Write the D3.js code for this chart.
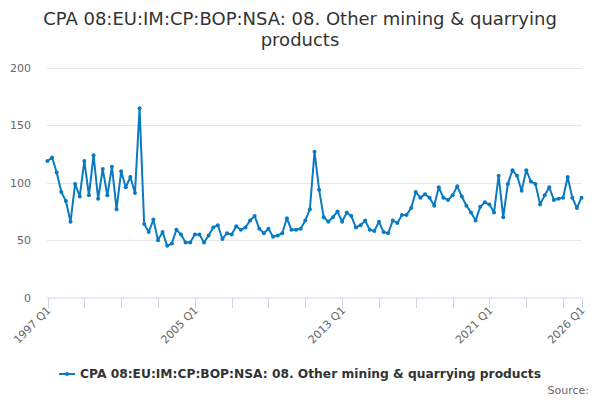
<!DOCTYPE html>
<html>
<head>
<meta charset="utf-8">
<script src="https://cdn.jsdelivr.net/npm/d3@7"></script>
<style>
  body { margin: 0; background: #fff; }
  svg { font-family: "DejaVu Sans", sans-serif; }
</style>
</head>
<body>
<svg id="chart" width="600" height="400"></svg>
<script>
const title = ["CPA 08:EU:IM:CP:BOP:NSA: 08. Other mining & quarrying", "products"];
const seriesName = "CPA 08:EU:IM:CP:BOP:NSA: 08. Other mining & quarrying products";
const startYear = 1997;
const categories = [];
for (let y = startYear; y <= 2026; y++) {
  for (let q = 1; q <= 4; q++) {
    categories.push(y + " Q" + q);
    if (y === 2026) break;
  }
}
const values = [
  119, 122, 109, 92, 84, 66, 99, 88, 119, 89, 124, 86, 112, 89, 114, 77, 110, 96, 105, 91,
  165, 64, 57, 68, 50, 57, 45, 47, 59, 55, 48, 48, 55, 55, 48, 54, 61, 63, 51, 56,
  55, 62, 59, 61, 67, 71, 60, 56, 60, 53, 54, 56, 69, 59, 59, 60, 67, 77, 127, 94,
  70, 66, 70, 75, 66, 74, 71, 61, 63, 67, 59, 58, 66, 57, 56, 67, 65, 72, 72, 78,
  92, 87, 90, 87, 80, 96, 87, 85, 89, 97, 88, 80, 74, 67, 79, 83, 81, 74, 106, 70,
  99, 111, 106, 93, 111, 101, 99, 81, 89, 96, 85, 86, 87, 105, 87, 78, 87
];
const yTicks = [0, 50, 100, 150, 200];
const xTickLabels = ["1997 Q1", "2005 Q1", "2013 Q1", "2021 Q1", "2026 Q1"];

const svg = d3.select("#chart");
const color = "#0a7bc2";

const x = d3.scalePoint().domain(categories).range([47.5, 581.5]);
const y = d3.scaleLinear().domain([0, 200]).range([297.5, 68]);

// title
svg.append("text")
  .attr("x", 300).attr("y", 25)
  .attr("text-anchor", "middle")
  .attr("fill", "#333").attr("font-size", 18)
  .selectAll("tspan").data(title).join("tspan")
  .attr("x", 300).attr("dy", (d, i) => i === 0 ? 0 : 21)
  .text(d => d);

// grid + y labels
const gy = svg.append("g");
gy.selectAll("line").data(yTicks.filter(d => d > 0)).join("line")
  .attr("x1", 47).attr("x2", 582)
  .attr("y1", d => Math.round(y(d)) + 0.5).attr("y2", d => Math.round(y(d)) + 0.5)
  .attr("stroke", "#e6e6e6");
gy.selectAll("text").data(yTicks).join("text")
  .attr("x", 31).attr("y", d => y(d) + 4)
  .attr("text-anchor", "end").attr("fill", "#666").attr("font-size", 11)
  .text(d => d);

// x axis
const tickCats = categories.filter((c, i) => i % 8 === 0 || i === categories.length - 1);
const gx = svg.append("g");
gx.append("line").attr("x1", 47).attr("x2", 582)
  .attr("y1", 298).attr("y2", 298).attr("stroke", "#ccd6eb");
gx.selectAll("line.tick").data(tickCats).join("line").attr("class", "tick")
  .attr("x1", d => Math.round(x(d)) + 0.5).attr("x2", d => Math.round(x(d)) + 0.5)
  .attr("y1", 298).attr("y2", 308).attr("stroke", "#ccd6eb");
gx.selectAll("text").data(xTickLabels).join("text")
  .attr("transform", d => `translate(${x(d) + 4},${311}) rotate(-45)`)
  .attr("text-anchor", "end").attr("fill", "#666").attr("font-size", 11)
  .text(d => d);

// line
const data = categories.map((c, i) => ({ c, v: values[i] }));
svg.append("path").datum(data)
  .attr("fill", "none").attr("stroke", color).attr("stroke-width", 2)
  .attr("stroke-linejoin", "round")
  .attr("d", d3.line().x(d => x(d.c)).y(d => y(d.v)));
svg.append("g").selectAll("circle").data(data).join("circle")
  .attr("cx", d => x(d.c)).attr("cy", d => y(d.v)).attr("r", 2)
  .attr("fill", color);

// legend
const lg = svg.append("g");
const legendText = lg.append("text")
  .attr("x", 81).attr("y", 378)
  .attr("fill", "#333").attr("font-size", 12.25).attr("font-weight", "bold")
  .text(seriesName);
const tw = legendText.node().getComputedTextLength();
const total = 21 + tw;
const lx = 300 - total / 2;
legendText.attr("x", lx + 21);
lg.append("line").attr("x1", lx).attr("x2", lx + 16).attr("y1", 374).attr("y2", 374)
  .attr("stroke", color).attr("stroke-width", 2);
lg.append("circle").attr("cx", lx + 8).attr("cy", 374).attr("r", 2).attr("fill", color);

// source
svg.append("text").attr("x", 589).attr("y", 394)
  .attr("text-anchor", "end").attr("fill", "#666").attr("font-size", 11)
  .text("Source:");
</script>
</body>
</html>
